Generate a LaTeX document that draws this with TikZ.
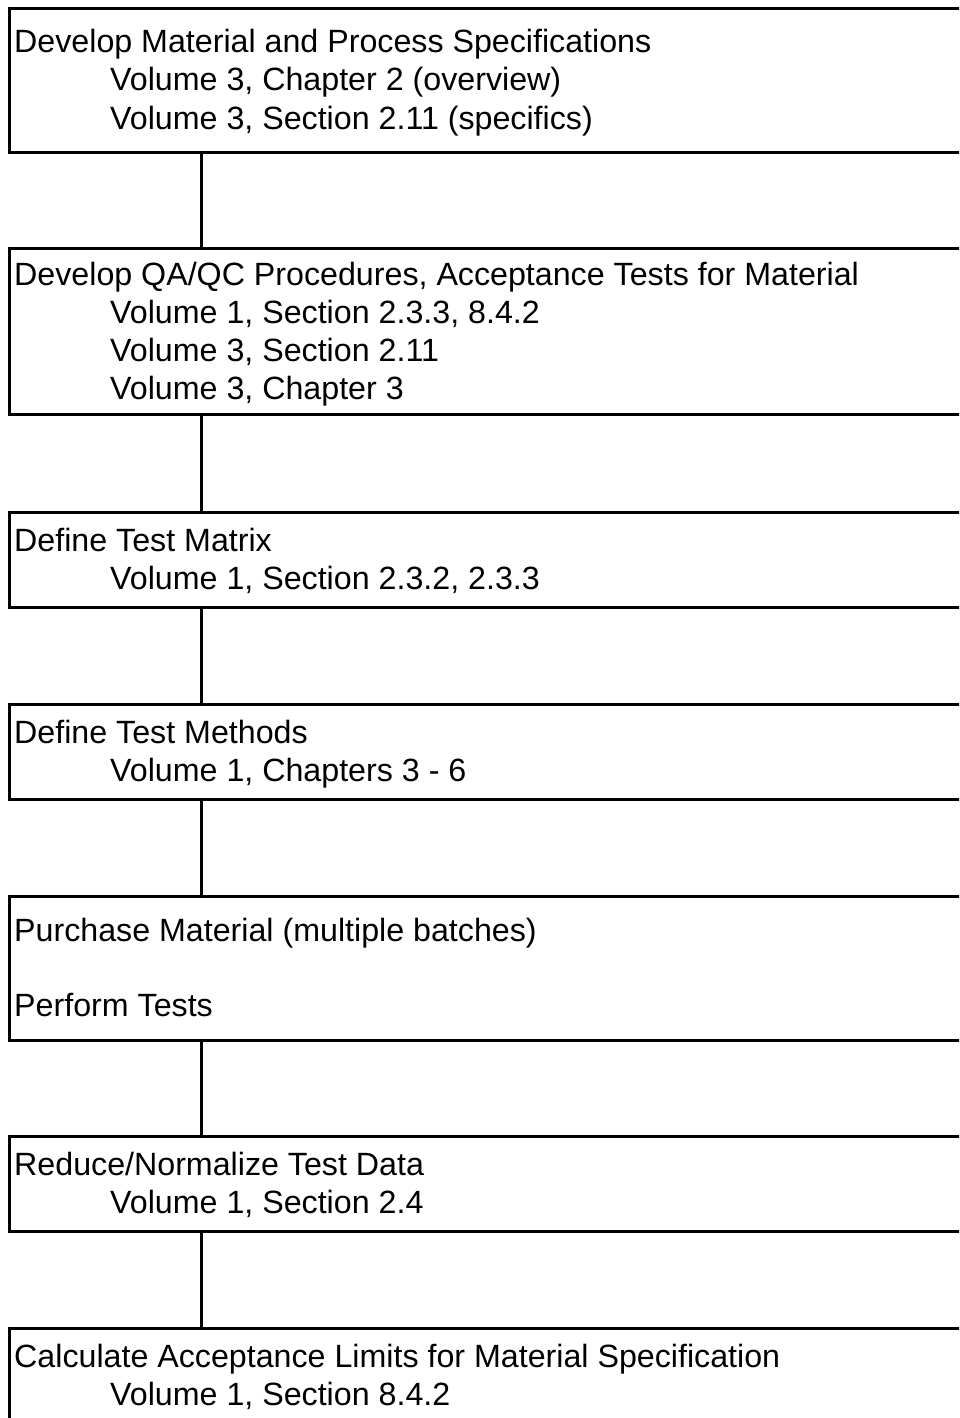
\documentclass[tikz,border=0pt]{standalone}
\usepackage{fontspec}
\setmainfont{Liberation Sans}
\begin{document}
\begin{tikzpicture}[x=1pt,y=-1pt,
  box/.style={draw=black,line width=3pt,fill=none},
  conn/.style={draw=black,line width=3pt},
  head/.style={anchor=base west,inner sep=0pt,font=\fontsize{32.2}{38}\selectfont},
  sub/.style={anchor=base west,inner sep=0pt,font=\fontsize{32.2}{38}\selectfont}]
\clip (0,0) rectangle (959,1418);
\fill[white] (0,0) rectangle (959,1418);
% boxes
\draw[box] (9.5,9) rectangle (990,152);
\coordinate (b1s) at (201,152);
\draw[box] (9.5,248) rectangle (990,414);
\coordinate (b2n) at (201,248); \coordinate (b2s) at (201,414);
\draw[box] (9.5,512) rectangle (990,607);
\coordinate (b3n) at (201,512); \coordinate (b3s) at (201,607);
\draw[box] (9.5,704) rectangle (990,799);
\coordinate (b4n) at (201,704); \coordinate (b4s) at (201,799);
\draw[box] (9.5,896) rectangle (990,1040);
\coordinate (b5n) at (201,896); \coordinate (b5s) at (201,1040);
\draw[box] (9.5,1136) rectangle (990,1231);
\coordinate (b6n) at (201,1136); \coordinate (b6s) at (201,1231);
\draw[box] (9.5,1328) rectangle (990,1450);
\coordinate (b7n) at (201,1328);
% connectors
\draw[conn] (b1s) -- (b2n);
\draw[conn] (b2s) -- (b3n);
\draw[conn] (b3s) -- (b4n);
\draw[conn] (b4s) -- (b5n);
\draw[conn] (b5s) -- (b6n);
\draw[conn] (b6s) -- (b7n);
% texts
\node[head] (t11) at (14,53) {Develop Material and Process Specifications};
\node[sub] (t12) at (110,91) {Volume 3, Chapter 2 (overview)};
\node[sub] (t13) at (110,129) {Volume 3, Section 2.11 (specifics)};
\node[head] (t21) at (14,285) {Develop QA/QC Procedures, Acceptance Tests for Material};
\node[sub] (t22) at (110,323) {Volume 1, Section 2.3.3, 8.4.2};
\node[sub] (t23) at (110,361) {Volume 3, Section 2.11};
\node[sub] (t24) at (110,399) {Volume 3, Chapter 3};
\node[head] (t31) at (14,551) {Define Test Matrix};
\node[sub] (t32) at (110,589) {Volume 1, Section 2.3.2, 2.3.3};
\node[head] (t41) at (14,743) {Define Test Methods};
\node[sub] (t42) at (110,781) {Volume 1, Chapters 3 - 6};
\node[head] (t51) at (14,941) {Purchase Material (multiple batches)};
\node[head] (t52) at (14,1016) {Perform Tests};
\node[head] (t61) at (14,1175) {Reduce/Normalize Test Data};
\node[sub] (t62) at (110,1213) {Volume 1, Section 2.4};
\node[head] (t71) at (14,1367) {Calculate Acceptance Limits for Material Specification};
\node[sub] (t72) at (110,1405) {Volume 1, Section 8.4.2};
\end{tikzpicture}
\end{document}
